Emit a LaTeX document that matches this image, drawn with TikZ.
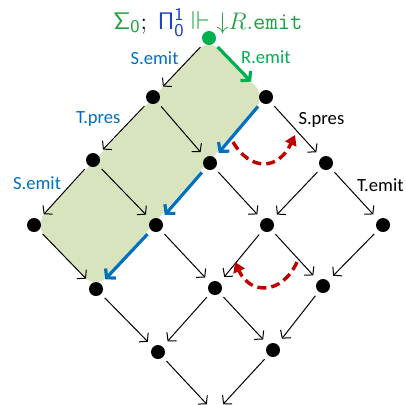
\documentclass[tikz,border=0pt]{standalone}
\usepackage{amsmath}
\usepackage{amssymb}
\usepackage[no-math]{fontspec}
\usepackage{tikz}
\usepackage{xcolor}
\usetikzlibrary{arrows.meta, positioning, backgrounds}
\newfontfamily\calibri{Carlito}
\definecolor{emitgreen}{HTML}{00B050}
\definecolor{goalgreen}{HTML}{1FA040}
\definecolor{pathblue}{HTML}{0070C0}
\definecolor{pinavy}{HTML}{1F3FC0}
\definecolor{swapred}{HTML}{C00000}
\definecolor{shadegreen}{HTML}{D7E4BD}

\begin{document}
\begin{tikzpicture}[
    x=0.5pt, y=-0.5pt,
    dot/.style={circle, fill=#1, inner sep=0pt, minimum size=7pt},
    dot/.default=black,
    edge/.style={-{Straight Barb[length=2.8pt, width=6.5pt]}, line width=0.5pt, shorten <=2.5pt, shorten >=3.5pt},
    hilite/.style={-{Straight Barb[length=3pt, width=7pt]}, line width=1.6pt, color=#1, shorten <=2.5pt, shorten >=3pt},
    swap/.style={-{Triangle[length=5pt, width=6pt]}, line width=1.7pt, color=swapred, dash pattern=on 4.5pt off 2.5pt},
    lbl/.style={font=\calibri\fontsize{9.3}{11}\selectfont, text=#1, inner sep=1pt, midway},
    lbl/.default=black,
]
    \useasboundingbox (0,0) rectangle (406,404);

    % goal
    \node[anchor=base, font=\fontsize{13}{15}\selectfont] (goal) at (208,29)
        {$\color{goalgreen}\mathsf{\Sigma_0}\color{black};\;\color{pinavy}\mathsf{\Pi^1_0}\color{goalgreen}\Vdash{\downarrow}R.\mathtt{emit}$};

    % lattice
    \node[dot=emitgreen] (v00) at (209,38) {};
    \node[dot] (v10) at (153,97) {};
    \node[dot] (v01) at (266,97) {};
    \node[dot] (v20) at (93,160) {};
    \node[dot] (v11) at (210,163) {};
    \node[dot] (v02) at (326,163) {};
    \node[dot] (v30) at (34,225) {};
    \node[dot] (v21) at (156,225) {};
    \node[dot] (v12) at (267,225) {};
    \node[dot] (v03) at (383,225) {};
    \node[dot] (v31) at (96,289) {};
    \node[dot] (v22) at (215,288) {};
    \node[dot] (v13) at (323,286) {};
    \node[dot] (v32) at (158,352) {};
    \node[dot] (v23) at (273,350) {};
    \coordinate (v33) at (215,413);

    % shaded run
    \begin{scope}[on background layer]
        \fill[shadegreen, rounded corners=8pt] (v00.center) -- (v01.center) -- (v31.center) -- (v30.center) -- cycle;
    \end{scope}

    % down-left
    \draw[edge] (v00) -- node[lbl=pathblue, anchor=south east] {S.emit} (v10);
    \draw[edge] (v10) -- node[lbl=pathblue, anchor=south east] {T.pres} (v20);
    \draw[edge] (v20) -- node[lbl=pathblue, anchor=south east] {S.emit} (v30);
    \draw[hilite=pathblue] (v01) -- (v11);
    \draw[hilite=pathblue] (v11) -- (v21);
    \draw[hilite=pathblue] (v21) -- (v31);
    \draw[edge] (v02) -- (v12);
    \draw[edge] (v12) -- (v22);
    \draw[edge] (v22) -- (v32);
    \draw[edge] (v03) -- (v13);
    \draw[edge] (v13) -- (v23);
    \draw[edge, shorten >=6pt] (v23) -- (v33);

    % down-right
    \draw[hilite=emitgreen, shorten >=7pt] (v00) -- node[lbl=emitgreen, anchor=south west] {R.emit} (v01);
    \draw[edge] (v01) -- node[lbl, anchor=south west] {S.pres} (v02);
    \draw[edge] (v02) -- node[lbl, anchor=south west] {T.emit} (v03);
    \draw[edge] (v10) -- (v11);
    \draw[edge] (v11) -- (v12);
    \draw[edge] (v12) -- (v13);
    \draw[edge] (v20) -- (v21);
    \draw[edge] (v21) -- (v22);
    \draw[edge] (v22) -- (v23);
    \draw[edge] (v30) -- (v31);
    \draw[edge] (v31) -- (v32);
    \draw[edge, shorten >=6pt] (v32) -- (v33);

    % swaps
    \coordinate (s1a) at (233,142);
    \coordinate (s1b) at (295,135);
    \coordinate (s2a) at (297,262);
    \coordinate (s2b) at (235,262);
    \draw[swap] (s1a) .. controls (250,171) and (278,171) .. (s1b);
    \draw[swap] (s2a) .. controls (282,295) and (250,295) .. (s2b);
\end{tikzpicture}
\end{document}
